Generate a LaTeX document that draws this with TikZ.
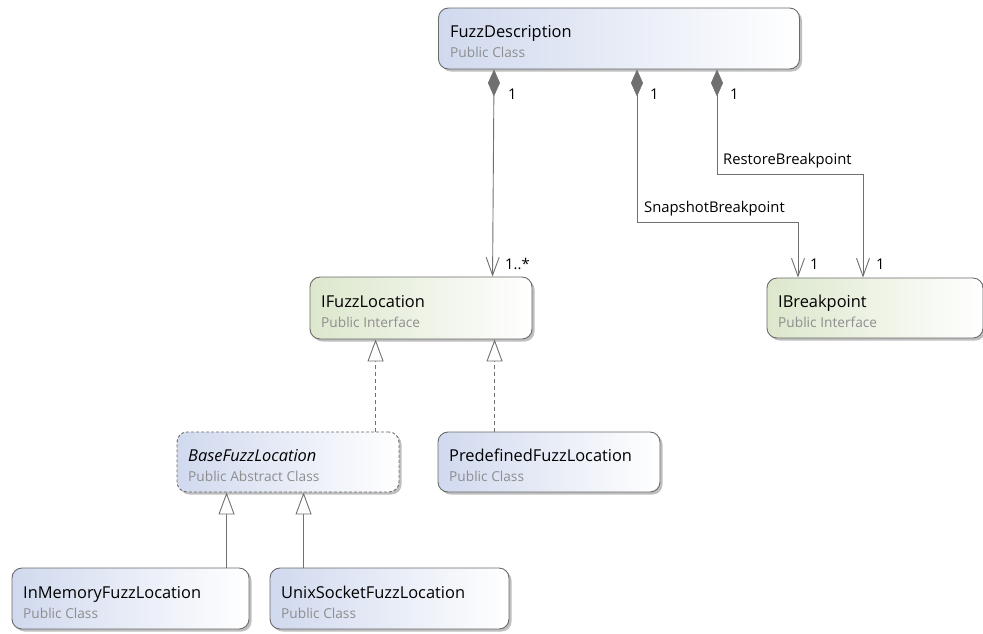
\documentclass[tikz,border=0pt]{standalone}
\usepackage{fontspec}
\setmainfont{Open Sans}
\usetikzlibrary{arrows.meta,shadows}

\definecolor{edgegray}{HTML}{6A6A6A}
\definecolor{classblue}{HTML}{D0D9EE}
\definecolor{ifacegreen}{HTML}{DCE7CC}
\definecolor{subgray}{HTML}{8E8E8E}
\definecolor{linkgray}{HTML}{707070}

\tikzset{
  box/.style={draw=edgegray, line width=0.9pt, rounded corners=10pt, inner sep=0pt,
    right color=white,
    copy shadow={shadow xshift=2.5pt, shadow yshift=-2.5pt, fill=black!25, draw=none}},
  classbox/.style={box, left color=classblue},
  ifacebox/.style={box, left color=ifacegreen},
  abstractbox/.style={classbox, dashed, dash pattern=on 3pt off 2pt},
  title/.style={anchor=base west, inner sep=0pt, font=\fontsize{16.4}{19}\selectfont},
  subtitle/.style={anchor=base west, inner sep=0pt, text=subgray, font=\fontsize{13.7}{16}\selectfont},
  lbl/.style={inner sep=0pt, font=\fontsize{14.8}{17}\selectfont},
  link/.style={draw=linkgray, line width=0.9pt},
  compose/.style={link, {Diamond[length=27pt,width=12pt,fill=linkgray,line width=0.5pt]}-{Straight Barb[length=18pt,width=13pt,line width=0.9pt]}},
  realize/.style={link, dashed, dash pattern=on 4pt off 3pt, -{Triangle[open,length=22pt,width=16pt,fill=white,line width=0.9pt]}},
  inherit/.style={link, -{Triangle[open,length=22pt,width=16pt,fill=white,line width=0.9pt]}}
}

\begin{document}
\begin{tikzpicture}[x=1pt,y=-1pt]
\useasboundingbox (0,0) rectangle (983,633);

% class and interface boxes
\node[classbox, minimum width=361pt, minimum height=61pt] (fd) at (619,38.5) {};
\node[ifacebox, minimum width=222pt, minimum height=62pt] (ifl) at (421,308) {};
\node[ifacebox, minimum width=216pt, minimum height=60pt] (ibp) at (875,308) {};
\node[abstractbox, minimum width=222pt, minimum height=60pt] (bfl) at (288,462) {};
\node[classbox, minimum width=222pt, minimum height=60pt] (pfl) at (549,462) {};
\node[classbox, minimum width=237pt, minimum height=61pt] (imfl) at (130.5,598.5) {};
\node[classbox, minimum width=239pt, minimum height=61pt] (usfl) at (389.5,598.5) {};

% box texts
\node[title] (fdt) at (450,37) {FuzzDescription};
\node[subtitle] (fds) at (450,57) {Public Class};
\node[title] (iflt) at (321,307) {IFuzzLocation};
\node[subtitle] (ifls) at (321,327) {Public Interface};
\node[title] (ibpt) at (778,307) {IBreakpoint};
\node[subtitle] (ibps) at (778,327) {Public Interface};
\node[title] (bflt) at (188,461) {\itshape BaseFuzzLocation};
\node[subtitle] (bfls) at (188,481) {Public Abstract Class};
\node[title] (pflt) at (449,461) {PredefinedFuzzLocation};
\node[subtitle] (pfls) at (449,481) {Public Class};
\node[title] (imflt) at (23,598) {InMemoryFuzzLocation};
\node[subtitle] (imfls) at (23,618) {Public Class};
\node[title] (usflt) at (281,598) {UnixSocketFuzzLocation};
\node[subtitle] (usfls) at (281,618) {Public Class};

% bend points of the breakpoint links
\coordinate (snapA) at (637,222);
\coordinate (snapB) at (798,222);
\coordinate (restA) at (717,174);
\coordinate (restB) at (863,174);

% compositions
\draw[compose] ([xshift=56pt]fd.south west) -- ([xshift=183pt]ifl.north west);
\draw[compose] (fd.south -| snapA) -- (snapA) -- (snapB) -- (ibp.north -| snapB);
\draw[compose] (fd.south -| restA) -- (restA) -- (restB) -- (ibp.north -| restB);

% multiplicities and role names
\node[lbl, anchor=west] (m1) at (508,94) {1};
\node[lbl, anchor=west] (m2) at (650,94) {1};
\node[lbl, anchor=west] (m3) at (730,94) {1};
\node[lbl, anchor=west] (m4) at (505,264) {1..*};
\node[lbl, anchor=west] (m5) at (810,264) {1};
\node[lbl, anchor=west] (m6) at (876,264) {1};
\node[lbl, anchor=base west] (snapl) at (644,212) {SnapshotBreakpoint};
\node[lbl, anchor=base west] (restl) at (723,164) {RestoreBreakpoint};

% realizations of IFuzzLocation
\draw[realize] ([xshift=199pt]bfl.north west) -- ([xshift=66pt]ifl.south west);
\draw[realize] ([xshift=57pt]pfl.north west) -- ([xshift=185pt]ifl.south west);

% inheritance from BaseFuzzLocation
\draw[inherit] ([xshift=215pt]imfl.north west) -- ([xshift=50pt]bfl.south west);
\draw[inherit] ([xshift=34pt]usfl.north west) -- ([xshift=127pt]bfl.south west);
\end{tikzpicture}
\end{document}
